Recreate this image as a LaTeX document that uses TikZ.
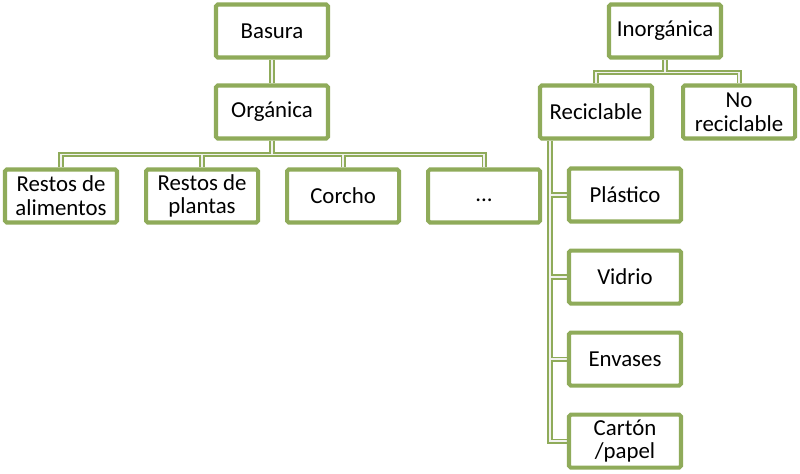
\documentclass[tikz,border=0pt]{standalone}
\usepackage{fontspec}
\setmainfont{Carlito}
\usepackage{xcolor}
\usetikzlibrary{positioning,backgrounds}
\definecolor{boxgreen}{HTML}{8FAB5A}
\definecolor{linkfill}{HTML}{F2F2F0}

\begin{document}
\begin{tikzpicture}[
    box/.style={draw=boxgreen, line width=2.3pt, fill=white, rounded corners=1pt,
        minimum width=2.24cm, minimum height=1.06cm, align=center,
        font=\fontsize{13}{13.5}\selectfont, inner sep=1pt},
    link/.style={draw=boxgreen, line width=0.9pt, double=linkfill, double distance=1.1pt}]
    \useasboundingbox (0,0) rectangle (16,-9.48);

    % Organica
    \node [box] (basura) at (5.44,-0.62) {Basura};
    \node [box] (organica) at (5.44,-2.24) {Orgánica};
    \node [box] (alimentos) at (1.22,-3.92) {Restos de\\alimentos};
    \node [box, right=0.5cm of alimentos] (plantas) {Restos de\\plantas};
    \node [box, right=0.5cm of plantas] (corcho) {Corcho};
    \node [box, right=0.5cm of corcho] (otros) {\vphantom{Ag}...};

    % Inorganica
    \node [box] (inorganica) at (13.3,-0.62) {Inorgánica};
    \node [box] (reciclable) at (11.92,-2.24) {Reciclable};
    \node [box, right=0.54cm of reciclable] (noreciclable) {No\\reciclable};
    \node [box] (plastico) at (12.5,-3.9) {Plástico};
    \node [box, below=0.5cm of plastico] (vidrio) {Vidrio};
    \node [box, below=0.5cm of vidrio] (envases) {Envases};
    \node [box, below=0.5cm of envases] (carton) {Cartón\\/papel};

    \begin{scope}[on background layer]
        \draw [link] (basura) -- (organica);
        \draw [link] (organica.south) -- ++(0,-0.28) coordinate (obus)
            (obus) -| (alimentos.north) (obus) -| (plantas.north)
            (obus) -| (corcho.north) (obus) -| (otros.north);
        \draw [link] (inorganica.south) -- ++(0,-0.26) coordinate (ibus)
            (ibus) -| (reciclable.north) (ibus) -| (noreciclable.north);
        \coordinate (rtop) at ([xshift=0.24cm]reciclable.south west);
        \draw [link] (rtop) |- (carton.west) (rtop) |- (envases.west)
            (rtop) |- (vidrio.west) (rtop) |- (plastico.west);
    \end{scope}

\end{tikzpicture}
\end{document}
